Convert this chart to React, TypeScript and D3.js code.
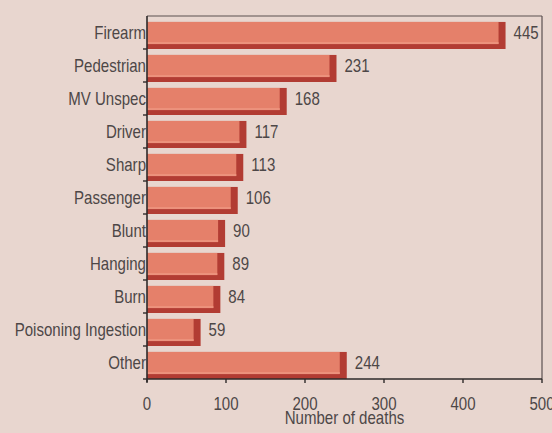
import React from "react";
import * as d3 from "d3";

const categories = ["Firearm","Pedestrian","MV Unspec","Driver","Sharp","Passenger","Blunt","Hanging","Burn","Poisoning Ingestion","Other"];
const deaths = [445,231,168,117,113,106,90,89,84,59,244];
const xTicks = [0,100,200,300,400,500];

const W = 552, H = 433;
const M = { left: 147, right: 542, top: 16, bottom: 379 };
const FONT = "Liberation Sans, Arial, sans-serif";
const FS = 17.5;
const SX = 0.86;
const TXT = "#4d4747";

function T({ x, y, anchor = "start", children }: { x: number; y: number; anchor?: string; children: any }) {
  return (
    <g transform={`translate(${x},${y}) scale(${SX},1)`}>
      <text x={0} y={0} textAnchor={anchor} fontFamily={FONT} fontSize={FS} fill={TXT}>{children}</text>
    </g>
  );
}

export default function App() {
  const x = d3.scaleLinear().domain([0, 500]).range([M.left, M.right]);
  const y = d3.scaleBand<string>().domain(categories).range([M.top, M.bottom]).padding(0);
  const bw = y.bandwidth();
  return (
    <svg width={W} height={H} style={{ position: "absolute", left: 0, top: 0 }}>
      <rect x={0} y={0} width={W} height={H} fill="#e8d6cf" />
      <line x1={M.left} x2={M.right} y1={M.top} y2={M.top} stroke="#5a5050" strokeWidth={1.2} />
      <line x1={M.right} x2={M.right} y1={M.top} y2={M.bottom} stroke="#5a5050" strokeWidth={1.2} />
      {categories.map((c, i) => {
        const y0 = y(c)!;
        const v = deaths[i];
        const xe = x(v);
        return (
          <g key={c}>
            <rect x={M.left} y={y0 + bw * 0.18} width={xe - M.left + 7} height={bw * 0.82} fill="#b23c33" />
            <rect x={M.left} y={y0 + bw * 0.18} width={xe - M.left} height={bw * 0.67} fill="#e5806a" />
            <rect x={M.left} y={y0 + bw * 0.79} width={xe - M.left} height={2} fill="#ec927d" />
            <T x={xe + 15} y={y0 + bw / 2 + 6}>{v}</T>
            <T x={M.left - 1} y={y0 + bw / 2 + 6} anchor="end">{c}</T>
          </g>
        );
      })}
      <line x1={M.left} x2={M.left} y1={M.top} y2={M.bottom + 3} stroke="#2e2a2a" strokeWidth={1.6} />
      {categories.map((c) => (
        <line key={"t" + c} x1={M.left - 4} x2={M.left} y1={y(c)! + bw} y2={y(c)! + bw} stroke="#2e2a2a" strokeWidth={1.4} />
      ))}
      <line x1={M.left} x2={M.right} y1={M.bottom} y2={M.bottom} stroke="#2e2a2a" strokeWidth={1.6} />
      {xTicks.map((t) => (
        <g key={"x" + t}>
          <line x1={x(t)} x2={x(t)} y1={M.bottom} y2={M.bottom + 4} stroke="#2e2a2a" strokeWidth={1.4} />
          <T x={x(t)} y={410} anchor="middle">{t}</T>
        </g>
      ))}
      <T x={(M.left + M.right) / 2} y={424} anchor="middle">Number of deaths</T>
    </svg>
  );
}
